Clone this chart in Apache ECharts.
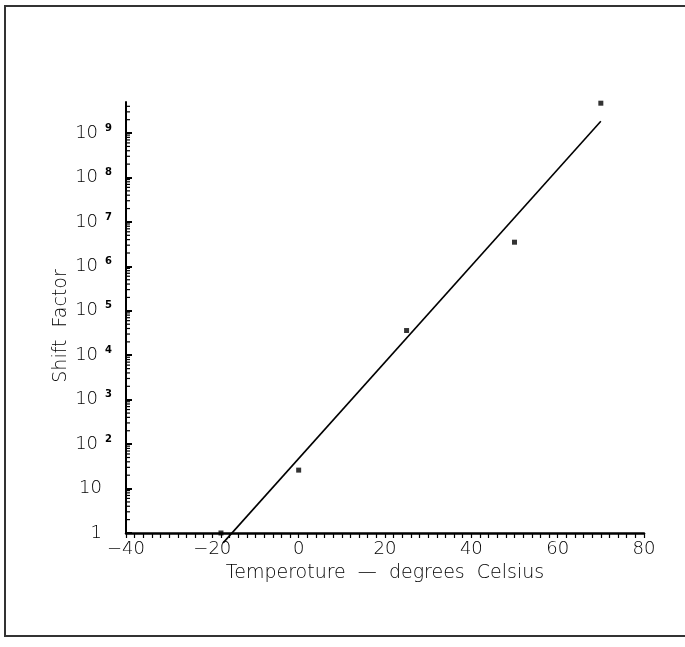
<!DOCTYPE html>
<html>
<head>
<meta charset="utf-8">
<script src="https://cdn.jsdelivr.net/npm/echarts@6/dist/echarts.min.js"></script>
<style>
html,body{margin:0;padding:0;background:#fff;}
#chart{width:685px;height:647px;}
</style>
</head>
<body>
<div id="chart"></div>
<script>
// Measured points (temperature °C, shift factor)
const temperatures = [-18, 0, 25, 50, 70];
const shiftFactors = [1, 26, 3.6e4, 3.5e6, 4.7e9];
// Fitted straight line (on log scale) end points
const fitTemperatures = [-17.5, 70];
const fitShiftFactors = [0.6, 1.84e9];
// Axis settings / tick labels
const xTickValues = [-40, -20, 0, 20, 40, 60, 80];
const yDecadeExponents = [0, 1, 2, 3, 4, 5, 6, 7, 8, 9];
const yMinorMantissas = [2, 3, 4, 5, 6, 7, 8, 9];
const xTitle = 'Temperoture  \u2014  degrees  Celsius';
const yTitle = 'Shift  Factor';

const FONT = 'DejaVu Sans';
const FW = 200;
const minorTickValues = [];
yDecadeExponents.forEach(e => yMinorMantissas.forEach(m => {
  const v = m * Math.pow(10, e);
  if (v < 5e9) minorTickValues.push([-40, v]);
}));

const chart = echarts.init(document.getElementById('chart'), null, {renderer: 'canvas'});
chart.setOption({
  backgroundColor: '#fff',
  animation: false,
  grid: {left: 126, right: 41, top: 102, bottom: 114, containLabel: false},
  xAxis: {
    type: 'value', min: -40, max: 80, interval: 20,
    axisLine: {show: true, onZero: false, lineStyle: {color: '#000', width: 2.5}},
    axisTick: {show: true, inside: false, length: 5, lineStyle: {color: '#000', width: 1.2}},
    minorTick: {show: true, splitNumber: 10, length: 5, lineStyle: {color: '#000', width: 1.2}},
    splitLine: {show: false},
    axisLabel: {
      color: '#000', fontFamily: FONT, fontWeight: FW, fontSize: 18, margin: 7,
      formatter: v => xTickValues.indexOf(v) >= 0 ? String(v).replace('-', '\u2212') : ''
    }
  },
  yAxis: {
    type: 'log', logBase: 10, min: 1, max: 5e9,
    axisLine: {show: true, onZero: false, lineStyle: {color: '#000', width: 2}},
    axisTick: {show: true, inside: true, length: 6, lineStyle: {color: '#000', width: 2}},
    splitLine: {show: false},
    axisLabel: {
      color: '#000', fontFamily: FONT, fontWeight: FW, fontSize: 18, margin: 14, showMaxLabel: false,
      formatter: function (v) {
        const e = Math.round(Math.log10(v));
        if (Math.abs(Math.log10(v) - e) > 1e-6 || yDecadeExponents.indexOf(e) < 0) return '';
        if (e === 0) return '{n|1}';
        if (e === 1) return '{n|10}';
        return '{b|10}{e|' + e + '}';
      },
      rich: {
        n: {fontFamily: FONT, fontWeight: FW, fontSize: 18, color: '#000', padding: [0, 10, 0, 0]},
        b: {fontFamily: FONT, fontWeight: FW, fontSize: 18, color: '#000', lineHeight: 20},
        e: {fontFamily: FONT, fontWeight: 'bold', fontSize: 10, color: '#000', verticalAlign: 'top', padding: [0, 0, 0, 7], lineHeight: 11}
      }
    }
  },
  series: [
    {
      type: 'custom', silent: true, clip: false,
      data: minorTickValues,
      renderItem: function (params, api) {
        const p = api.coord([api.value(0), api.value(1)]);
        return {type: 'line', shape: {x1: p[0], y1: p[1], x2: p[0] + 4, y2: p[1]},
          style: {stroke: '#000', lineWidth: 1.2}};
      }
    },
    {
      type: 'line', clip: false, symbol: 'none', silent: true,
      data: fitTemperatures.map((t, i) => [t, fitShiftFactors[i]]),
      lineStyle: {color: '#000', width: 1.6}
    },
    {
      type: 'scatter', symbol: 'rect', symbolSize: 5, clip: false,
      data: temperatures.map((t, i) => [t, shiftFactors[i]]),
      itemStyle: {color: '#000'}
    }
  ],
  graphic: [
    {type: 'polyline', silent: true, shape: {points: [[685, 6], [5, 6], [5, 636], [685, 636]]},
      style: {stroke: '#333', lineWidth: 2, fill: null}},
    {type: 'text', silent: true, x: 385, y: 573,
      style: {text: xTitle, fontFamily: FONT, fontWeight: FW, fontSize: 19, fill: '#000', align: 'center', verticalAlign: 'middle'}},
    {type: 'text', silent: true, x: 61, y: 326, rotation: Math.PI / 2,
      style: {text: yTitle, fontFamily: FONT, fontWeight: FW, fontSize: 19, fill: '#000', align: 'center', verticalAlign: 'middle'}}
  ]
});
</script>
</body>
</html>
